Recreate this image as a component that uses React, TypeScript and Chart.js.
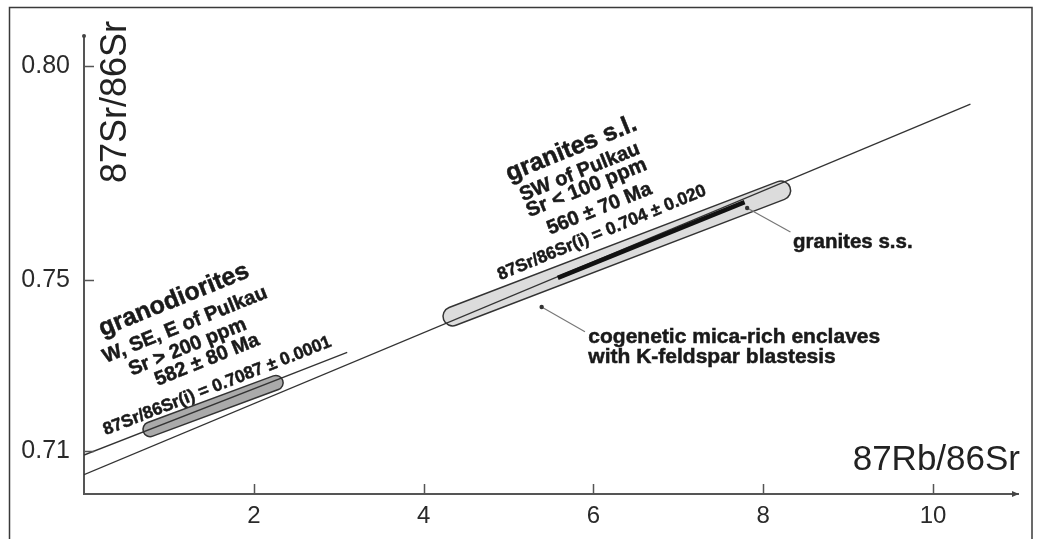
import { useEffect, useRef } from "react";
import { Chart, registerables } from "chart.js";

Chart.register(...registerables);

// ---- data ----
const xTicks = [2, 4, 6, 8, 10];
const yTicks = [0.71, 0.75, 0.8];

const graniteIsochron = [
  { x: 0, y: 0.7045 },
  { x: 10.44, y: 0.7911 },
];
const granodioriteIsochron = [
  { x: 0, y: 0.7091 },
  { x: 3.1, y: 0.7331 },
];
const granodioriteField = [
  { x: 0.78, y: 0.7151 },
  { x: 2.26, y: 0.726 },
];
const graniteField = [
  { x: 4.34, y: 0.7415 },
  { x: 8.21, y: 0.7709 },
];
const granitesSS = [
  { x: 5.58, y: 0.7505 },
  { x: 7.78, y: 0.7682 },
];
const granitesSSLeader = [
  { x: 7.81, y: 0.7668 },
  { x: 8.32, y: 0.7612 },
];
const enclavesLeader = [
  { x: 5.39, y: 0.7437 },
  { x: 5.9, y: 0.7379 },
];

type Note = { text: string; x: number; y: number; angle: number; size: number; bold: boolean; align: CanvasTextAlign; baseline: CanvasTextBaseline };

const rotatedNotes: Note[] = [
  { text: "granodiorites", x: 1.06, y: 0.7453, angle: -22, size: 25, bold: true, align: "center", baseline: "middle" },
  { text: "W, SE, E of Pulkau", x: 1.19, y: 0.7395, angle: -22, size: 20, bold: true, align: "center", baseline: "middle" },
  { text: "Sr > 200 ppm", x: 1.22, y: 0.7343, angle: -22, size: 20, bold: true, align: "center", baseline: "middle" },
  { text: "582 ± 80 Ma", x: 1.45, y: 0.7313, angle: -22, size: 20, bold: true, align: "center", baseline: "middle" },
  { text: "87Sr/86Sr(i) = 0.7087 ± 0.0001", x: 1.57, y: 0.7252, angle: -21.5, size: 17.5, bold: true, align: "center", baseline: "middle" },
  { text: "granites s.l.", x: 5.74, y: 0.7806, angle: -22, size: 25, bold: true, align: "center", baseline: "middle" },
  { text: "SW of Pulkau", x: 5.84, y: 0.7752, angle: -22, size: 20, bold: true, align: "center", baseline: "middle" },
  { text: "Sr < 100 ppm", x: 5.92, y: 0.7715, angle: -22, size: 20.5, bold: true, align: "center", baseline: "middle" },
  { text: "560 ± 70 Ma", x: 6.07, y: 0.7666, angle: -22, size: 20, bold: true, align: "center", baseline: "middle" },
  { text: "87Sr/86Sr(i) = 0.704 ± 0.020", x: 6.1, y: 0.761, angle: -22.5, size: 17.5, bold: true, align: "center", baseline: "middle" },
  { text: "granites s.s.", x: 8.35, y: 0.7575, angle: 0, size: 20.5, bold: true, align: "left", baseline: "alphabetic" },
  { text: "cogenetic mica-rich enclaves", x: 5.94, y: 0.7353, angle: 0, size: 21, bold: true, align: "left", baseline: "alphabetic" },
  { text: "with K-feldspar blastesis", x: 5.94, y: 0.7306, angle: 0, size: 21, bold: true, align: "left", baseline: "alphabetic" },
];

const xTitle = "87Rb/86Sr";
const yTitle = "87Sr/86Sr";
const FONT = "'Liberation Sans', Arial, Helvetica, sans-serif";

const decorPlugin = {
  id: "decor",
  afterDraw(chart: any) {
    const ctx: CanvasRenderingContext2D = chart.ctx;
    const { left, right, top, bottom } = chart.chartArea;
    const xs = chart.scales.x;
    const ys = chart.scales.y;
    ctx.save();
    // outer frame
    ctx.strokeStyle = "#3a3a3a";
    ctx.lineWidth = 1.5;
    ctx.strokeRect(9.5, 7.5, 1022.5, 600);

    // inward tick marks
    ctx.strokeStyle = "#555";
    ctx.lineWidth = 1.5;
    ctx.beginPath();
    xTicks.forEach((v) => {
      const px = Math.round(xs.getPixelForValue(v)) + 0.5;
      ctx.moveTo(px, bottom);
      ctx.lineTo(px, bottom - 10);
    });
    yTicks.forEach((v) => {
      const py = Math.round(ys.getPixelForValue(v)) + 0.5;
      ctx.moveTo(left, py);
      ctx.lineTo(left + 10, py);
    });
    ctx.stroke();

    // arrow heads
    ctx.fillStyle = "#444";
    ctx.beginPath();
    ctx.moveTo(right + 1, bottom);
    ctx.lineTo(right - 6, bottom - 3);
    ctx.lineTo(right - 6, bottom + 3);
    ctx.closePath();
    ctx.fill();
    ctx.beginPath();
    ctx.arc(left, top, 2, 0, Math.PI * 2);
    ctx.fill();

    // axis titles
    ctx.fillStyle = "#222";
    ctx.font = `35px ${FONT}`;
    ctx.textAlign = "right";
    ctx.textBaseline = "alphabetic";
    ctx.fillText(xTitle, right + 2, bottom - 24);
    ctx.save();
    ctx.font = `36px ${FONT}`;
    ctx.translate(left + 42, top + 66);
    ctx.rotate(-Math.PI / 2);
    ctx.textAlign = "center";
    ctx.fillText(yTitle, 0, 0);
    ctx.restore();

    // annotations
    rotatedNotes.forEach((n) => {
      const px = xs.getPixelForValue(n.x);
      const py = ys.getPixelForValue(n.y);
      ctx.save();
      ctx.translate(px, py);
      ctx.rotate((n.angle * Math.PI) / 180);
      ctx.font = `${n.bold ? "bold " : ""}${n.size}px ${FONT}`;
      ctx.textAlign = n.align;
      ctx.textBaseline = n.baseline;
      ctx.fillStyle = "#1a1a1a";
      ctx.strokeStyle = "#1a1a1a";
      ctx.lineWidth = 0.5;
      ctx.fillText(n.text, 0, 0);
      ctx.strokeText(n.text, 0, 0);
      ctx.restore();
    });
    ctx.restore();
  },
};

export default function App() {
  const ref = useRef<HTMLCanvasElement | null>(null);
  useEffect(() => {
    if (!ref.current) return;
    Chart.defaults.font.family = FONT;
    const line = (data: any[], color: string, width: number, extra: any = {}) => ({
      data,
      showLine: true,
      borderColor: color,
      backgroundColor: color,
      borderWidth: width,
      pointRadius: 0,
      fill: false,
      tension: 0,
      ...extra,
    });
    const chart = new Chart(ref.current, {
      type: "scatter",
      data: {
        datasets: [
          line(granitesSS, "#111", 4.5),
          line(graniteIsochron, "#333", 1.3),
          line(granodioriteIsochron, "#333", 1.3),
          line(granitesSSLeader, "#777", 1.2, { pointRadius: [2.2, 0], pointBackgroundColor: "#333", pointBorderWidth: 0 }),
          line(enclavesLeader, "#777", 1.2, { pointRadius: [2.2, 0], pointBackgroundColor: "#333", pointBorderWidth: 0 }),
          line(graniteField, "#dcdcdc", 17.5, { borderCapStyle: "round" }),
          line(graniteField, "#333", 20.5, { borderCapStyle: "round" }),
          line(granodioriteField, "#aaaaaa", 13, { borderCapStyle: "round" }),
          line(granodioriteField, "#333", 16, { borderCapStyle: "round" }),
        ],
      },
      options: {
        animation: false,
        responsive: false,
        layout: { padding: { left: 0, top: 36, right: 19, bottom: 0 } },
        plugins: { legend: { display: false }, tooltip: { enabled: false } },
        scales: {
          x: {
            type: "linear",
            min: 0,
            max: 11,
            afterBuildTicks: (s: any) => {
              s.ticks = xTicks.map((v) => ({ value: v }));
            },
            afterFit: (s: any) => {
              s.height = 45;
            },
            grid: { display: false, drawTicks: false },
            border: { display: true, color: "#555", width: 2 },
            ticks: { padding: 8, color: "#2a2a2a", font: { size: 24 }, callback: (v: any) => String(v) },
          },
          y: {
            type: "linear",
            min: 0.7,
            max: 0.807,
            afterBuildTicks: (s: any) => {
              s.ticks = yTicks.map((v) => ({ value: v }));
            },
            afterFit: (s: any) => {
              s.width = 84;
            },
            grid: { display: false, drawTicks: false },
            border: { display: true, color: "#555", width: 2 },
            ticks: { padding: 14, color: "#2a2a2a", font: { size: 25 }, callback: (v: any) => Number(v).toFixed(2) },
          },
        },
      },
      plugins: [decorPlugin],
    } as any);
    return () => chart.destroy();
  }, []);
  return (
    <div style={{ position: "absolute", left: 0, top: 0, width: 1037, height: 539, background: "#fff" }}>
      <canvas ref={ref} width={1037} height={539} style={{ display: "block" }} />
    </div>
  );
}
